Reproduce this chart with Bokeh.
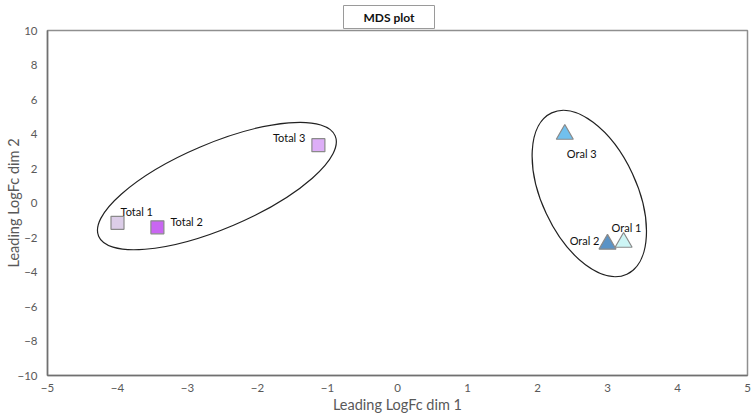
from bokeh.plotting import figure
from bokeh.models import ColumnDataSource, FixedTicker, Range1d, Title
from bokeh.core.properties import value
from bokeh.embed import file_html
from bokeh.resources import INLINE

# ---- data ----
names = ["Total 1", "Total 2", "Total 3", "Oral 1", "Oral 2", "Oral 3"]
dim1 = [-4.00, -3.43, -1.13, 3.23, 3.00, 2.39]
dim2 = [-1.15, -1.41, 3.35, -2.28, -2.39, 3.98]
colors = ["#DCCDE8", "#C966F2", "#DDAEF7", "#CDF5F5", "#5B93C6", "#71C0EE"]
x_ticks = [-5, -4, -3, -2, -1, 0, 1, 2, 3, 4, 5]
y_ticks = [-10, -8, -6, -4, -2, 0, 2, 4, 6, 8, 10]

# group ellipses: centre (data), size in screen px, angle in degrees
ell_x = [-2.58, 2.74]
ell_y = [0.98, 0.55]
ell_w = [257, 95]
ell_h = [85, 178]
ell_angle = [23, 25]

# label placement (styling)
lab_dx = [3, 13, -13, -12, -8, 2]
lab_dy = [-11, -6, -8, -15, -4, 19]
lab_align = ["left", "left", "right", "left", "right", "left"]

FONT = "Lato"

p = figure(width=752, height=415, output_backend="svg", toolbar_location=None,
           x_range=Range1d(-5, 5), y_range=Range1d(-10, 10),
           min_border_left=47, min_border_right=5, min_border_top=30, min_border_bottom=40)
p.background_fill_color = "white"
p.border_fill_color = "white"
p.outline_line_color = "#8f8f8f"
p.outline_line_width = 1.5
p.grid.visible = False

t = Title(text="MDS plot", align="left", text_font=FONT, text_font_size="12px",
          text_font_style="bold", text_color="#111111",
          background_fill_color="white", border_line_color="#9a9a9a",
          border_line_width=1, padding=(20, 4), standoff=4, offset=296)
p.add_layout(t, "above")

for ax in (p.xaxis[0], p.yaxis[0]):
    ax.major_tick_line_color = None
    ax.minor_tick_line_color = None
    ax.major_tick_out = 0
    ax.major_tick_in = 0
    ax.minor_tick_out = 0
    ax.minor_tick_in = 0
    ax.axis_line_color = "#707070"
    ax.axis_line_width = 1.5
    ax.major_label_text_font = FONT
    ax.major_label_text_font_size = "11.5px"
    ax.major_label_text_color = "#595959"
    ax.axis_label_text_font = FONT
    ax.axis_label_text_font_size = "14.5px"
    ax.axis_label_text_font_style = "normal"
    ax.axis_label_text_color = "#595959"

p.xaxis.ticker = FixedTicker(ticks=x_ticks)
p.yaxis.ticker = FixedTicker(ticks=y_ticks)
p.xaxis.axis_label = "Leading LogFc dim 1"
p.yaxis.axis_label = "Leading LogFc dim 2"
p.xaxis.major_label_standoff = 8
p.yaxis.major_label_standoff = 10
p.xaxis.axis_label_standoff = 1
p.yaxis.axis_label_standoff = -8

# ellipses
esrc = ColumnDataSource(dict(x=ell_x, y=ell_y, w=ell_w, h=ell_h, a=ell_angle))
p.ellipse(x="x", y="y", width="w", height="h", angle="a", angle_units="deg",
          width_units="screen", height_units="screen", source=esrc,
          fill_color=None, line_color="#222222", line_width=1.2)

src = ColumnDataSource(dict(x=dim1, y=dim2, name=names, color=colors,
                            dx=lab_dx, dy=lab_dy, align=lab_align))
tot = ColumnDataSource(dict(x=dim1[:3], y=dim2[:3], color=colors[:3]))
ora = ColumnDataSource(dict(x=dim1[3:], y=dim2[3:], color=colors[3:]))
p.scatter(x="x", y="y", source=tot, marker="square", size=13,
          fill_color="color", line_color="#8a8a8a", line_width=1.2)
p.scatter(x="x", y="y", source=ora, marker="triangle", size=17,
          fill_color="color", line_color="#8a8a8a", line_width=1.2)

p.text(x="x", y="y", text="name", source=src, x_offset="dx", y_offset="dy",
       text_align="align", text_baseline="alphabetic",
       text_font=value(FONT), text_font_size="11px", text_color="#111111")

open("out.html", "w").write(file_html(p, INLINE))
